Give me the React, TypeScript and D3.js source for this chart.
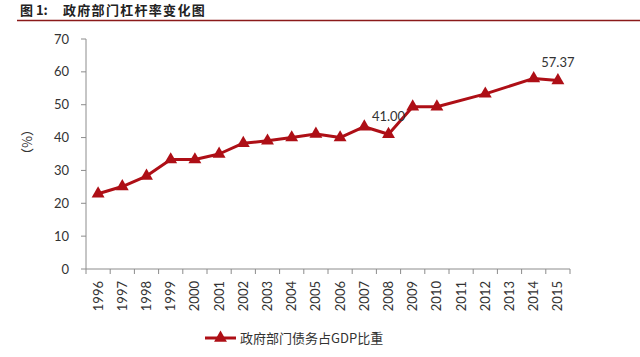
import React from "react";
import * as d3 from "d3";

const years = ["1996","1997","1998","1999","2000","2001","2002","2003","2004","2005","2006","2007","2008","2009","2010","2011","2012","2013","2014","2015"];
const debtRatio: (number | null)[] = [22.9, 25.1, 28.3, 33.3, 33.3, 35.0, 38.3, 39.0, 40.0, 41.1, 40.0, 43.3, 41.0, 49.4, 49.4, null, 53.3, null, 58.0, 57.37];
const yTicks = [0, 10, 20, 30, 40, 50, 60, 70];
const labeledYears = ["2008", "2015"];
const seriesName = "政府部门债务占GDP比重";
const titleText = "图 1:";
const titleName = "政府部门杠杆率变化图";

const W = 640, H = 357;
const ml = 86, mr = 570, mt = 39, mb = 269;
const red = "#AE0F16";
const axisColor = "#8c8c8c";
const numFont = "Lato, 'Open Sans', sans-serif";
const cjk = "'Noto Sans CJK SC', sans-serif";

export default function App() {
  const x = d3.scaleBand<string>().domain(years).range([ml, mr]);
  const y = d3.scaleLinear().domain([0, 70]).range([mb, mt]);
  const pts = years
    .map((yr, i) => ({ yr, v: debtRatio[i] }))
    .filter((d) => d.v !== null) as { yr: string; v: number }[];
  const line = d3
    .line<{ yr: string; v: number }>()
    .x((d) => x(d.yr)! + x.bandwidth() / 2)
    .y((d) => y(d.v));
  const tri = d3.symbol().type(d3.symbolTriangle).size(72)();
  const bounds = years.map((yr) => x(yr)!).concat([mr]);

  return (
    <svg width={W} height={H} style={{ position: "absolute", left: 0, top: 0, background: "#fff" }}>
      <rect width={W} height={H} fill="#fff" />
      <text x={20} y={15} fontFamily={cjk} fontWeight={700} fontSize={13} fill="#222">{titleText}</text>
      <text x={63} y={15} fontFamily={cjk} fontWeight={700} fontSize={13} fill="#222" letterSpacing={1.3}>{titleName}</text>
      <line x1={17} x2={W} y1={20.5} y2={20.5} stroke="#8B1A1A" strokeWidth={1.5} />

      {/* y axis */}
      <line x1={ml} x2={ml} y1={mt} y2={mb} stroke={axisColor} />
      {yTicks.map((t) => (
        <g key={t}>
          <line x1={ml - 5} x2={ml} y1={y(t)} y2={y(t)} stroke={axisColor} />
          <text x={69} y={y(t) + 4.5} textAnchor="end" fontFamily={numFont} fontSize={13} fill="#333">{t}</text>
        </g>
      ))}
      <text transform="translate(32,142) rotate(-90)" textAnchor="middle" fontFamily={cjk} fontSize={13} fill="#333">（%）</text>

      {/* x axis */}
      <line x1={ml} x2={mr} y1={mb} y2={mb} stroke={axisColor} />
      {bounds.map((b, i) => (
        <line key={i} x1={b} x2={b} y1={mb} y2={mb + 5} stroke={axisColor} />
      ))}
      {years.map((yr) => (
        <text key={yr} transform={`translate(${x(yr)! + x.bandwidth() / 2 + 4.5},${mb + 12}) rotate(-90)`} textAnchor="end" fontFamily={numFont} fontSize={13} fill="#333">{yr}</text>
      ))}

      {/* series */}
      <path d={line(pts)!} fill="none" stroke={red} strokeWidth={3} strokeLinejoin="round" />
      {pts.map((d) => (
        <path key={d.yr} d={tri} transform={`translate(${x(d.yr)! + x.bandwidth() / 2},${y(d.v)})`} fill={red} />
      ))}
      {pts.filter((d) => labeledYears.includes(d.yr)).map((d) => (
        <text key={"l" + d.yr} x={x(d.yr)! + x.bandwidth() / 2} y={y(d.v) - 13} textAnchor="middle" fontFamily={numFont} fontSize={13} fill="#333">{d.v.toFixed(2)}</text>
      ))}

      {/* legend */}
      <line x1={205} x2={236} y1={338} y2={338} stroke={red} strokeWidth={3} />
      <path d={tri} transform="translate(220.5,338)" fill={red} />
      <text x={240} y={343} fontFamily={cjk} fontSize={13} fill="#333">{seriesName}</text>
    </svg>
  );
}
